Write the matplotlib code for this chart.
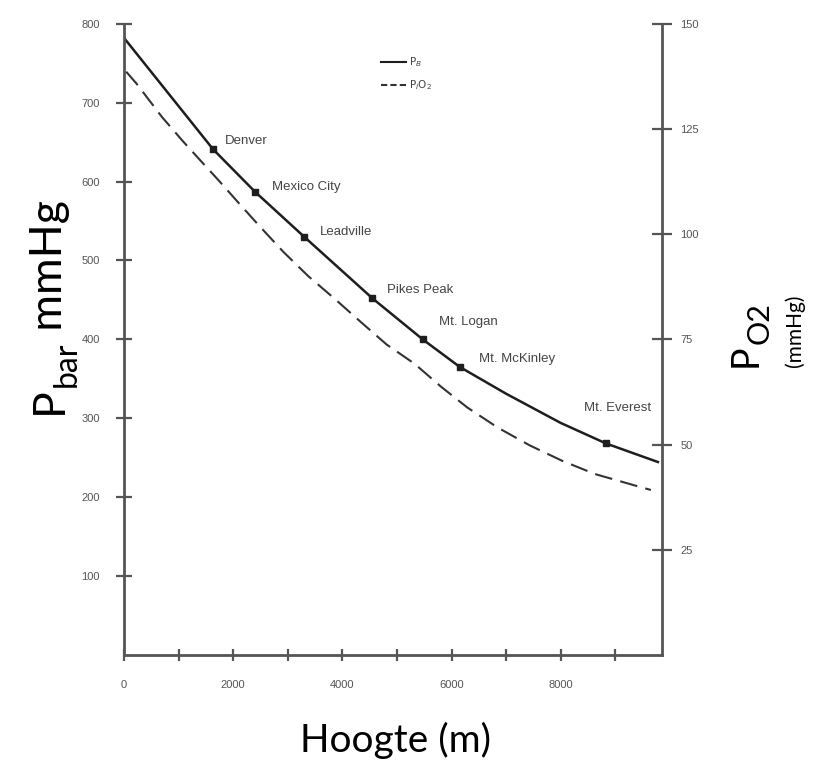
####################################################################################################
# Import Dependencies:
####################################################################################################
import matplotlib
matplotlib.use("Agg")
import matplotlib.pyplot as plt

####################################################################################################
# Data: barometric pressure (left axis) and inspired O2 pressure (right axis) against altitude
####################################################################################################
placeNames = ['Denver', 'Mexico City', 'Leadville', 'Pikes Peak', 'Mt. Logan', 'Mt. McKinley', 'Mt. Everest']
placeHeights = [1630, 2400, 3300, 4550, 5470, 6150, 8830]
placePbar = [641, 587, 530, 452, 400, 365, 268]

# Full barometric curve = sea level + named places + a few points along the bend + end of the axis
pbarHeights = [0, 1630, 2400, 3300, 4550, 5470, 6150, 7000, 8000, 8830, 9800]
pbarValues = [782, 641, 587, 530, 452, 400, 365, 331, 294, 268, 244]

# Inspired O2 pressure (right axis, mmHg)
po2Heights = [40, 233, 691, 1070, 1364, 1731, 2128, 2440, 2917, 3376, 3853, 4330, 4807,
              5321, 5811, 6288, 6849, 7431, 8031, 8624, 9376, 9651]
po2Values = [138.6, 135.7, 127.9, 122.2, 118.0, 112.8, 107.0, 102.5, 95.8, 90.0, 84.7, 79.2, 73.8,
             69.2, 63.7, 58.8, 54.0, 49.8, 46.1, 43.0, 40.2, 39.2]

leftTicks = [100, 200, 300, 400, 500, 600, 700, 800]
rightTicks = [25, 50, 75, 100, 125, 150]
xTicks = [0, 1000, 2000, 3000, 4000, 5000, 6000, 7000, 8000, 9000]
xTickLabels = ['0', '', '2000', '', '4000', '', '6000', '', '8000', '']

# Where each place label sits relative to its marker (pixels) and its alignment
labelOffsets = [(12, 8, 'left'), (17, 5, 'left'), (16, 5, 'left'), (15, 8, 'left'),
                (16, 17, 'left'), (19, 8, 'left'), (45, 35, 'right')]

####################################################################################################
# Styling
####################################################################################################
axisColor = '#555555'
curveColor = '#1e1e1e'
tickFont = 'Liberation Sans'
labelFont = 'Lato'

####################################################################################################
# Figure and axes
####################################################################################################
fig = plt.figure(figsize=(8.16, 7.66), dpi=100)
ax = fig.add_axes([0.152, 0.145, 0.659, 0.824])
ax2 = ax.twinx()

ax.set_xlim(0, 9850)
ax.set_ylim(0, 800)
ax2.set_ylim(0, 150)

for a in (ax, ax2):
    a.spines['top'].set_visible(False)
    for side in ('left', 'right', 'bottom'):
        a.spines[side].set_color(axisColor)
        a.spines[side].set_linewidth(2)
ax.spines['right'].set_visible(False)
ax2.spines['left'].set_visible(False)
ax2.spines['bottom'].set_visible(False)

# Ticks crossing the axis lines
ax.set_yticks(leftTicks)
ax.set_yticklabels([str(t) for t in leftTicks])
ax.tick_params(axis='y', direction='inout', length=11, width=1.6, color=axisColor,
               labelsize=8, labelcolor='#555555', pad=12)
ax.set_xticks(xTicks)
ax.set_xticklabels(xTickLabels)
ax.tick_params(axis='x', direction='inout', length=8, width=1.6, color=axisColor,
               labelsize=8, labelcolor='#555555', pad=14)
ax2.set_yticks(rightTicks)
ax2.set_yticklabels([str(t) for t in rightTicks])
ax2.tick_params(axis='y', direction='inout', length=15, width=1.6, color=axisColor,
                labelsize=8, labelcolor='#555555', pad=6)
for lab in ax.get_xticklabels() + ax.get_yticklabels() + ax2.get_yticklabels():
    lab.set_fontfamily(tickFont)

####################################################################################################
# Curves
####################################################################################################
ax.plot(pbarHeights, pbarValues, color=curveColor, lw=1.8, solid_capstyle='butt')
ax.plot(placeHeights, placePbar, 's', color=curveColor, ms=5, mec=curveColor)
ax2.plot(po2Heights, po2Values, color='#333333', lw=1.5, linestyle=(0, (8.5, 4)))

# Place names next to their markers
for name, h, p, (dx, dy, align) in zip(placeNames, placeHeights, placePbar, labelOffsets):
    ax.annotate(name, (h, p), xytext=(dx, dy), textcoords='offset pixels',
                ha=align, va='center', fontsize=9.5, color='#444444', fontfamily=tickFont)

# Small legend drawn on the right axis
leg = ax2.legend(handles=[plt.Line2D([], [], color=curveColor, lw=1.5),
                          plt.Line2D([], [], color='#333333', lw=1.5, linestyle=(0, (3, 1.5)))],
                 labels=['P$_B$', 'P$_I$O$_2$'], loc='upper left', bbox_to_anchor=(0.46, 0.965),
                 frameon=False, fontsize=7.5, handlelength=2.4, handletextpad=0.3, labelspacing=0.9,
                 labelcolor='#444444')

####################################################################################################
# Axis titles
####################################################################################################
W, H = 816, 766
renderer = fig.canvas.get_renderer()


def stackUp(pieces, xBase, yStart):
    # rotated text pieces placed one after another going up; (text, size, baseline shift in px)
    y = yStart
    for txt, size, shift in pieces:
        t = fig.text((xBase + shift) / W, 1 - y / H, txt, rotation=90, rotation_mode='anchor',
                     ha='left', va='baseline', fontsize=size, fontfamily=labelFont)
        y -= t.get_window_extent(renderer).height


stackUp([('P', 32, 0), ('bar', 23, 14), (' mmHg', 32, 0)], 62, 414)
stackUp([('P', 27, 0), ('O2', 22, 12), ], 757, 367)
fig.text(801 / W, 1 - 367 / H, '(mmHg)', rotation=90, rotation_mode='anchor',
         ha='left', va='baseline', fontsize=15, fontfamily=labelFont)
fig.text(395 / W, 1 - 740 / H, 'Hoogte (m)', ha='center', va='center', fontsize=28, fontfamily=labelFont)

plt.savefig('out.png', dpi=100)
plt.close()
